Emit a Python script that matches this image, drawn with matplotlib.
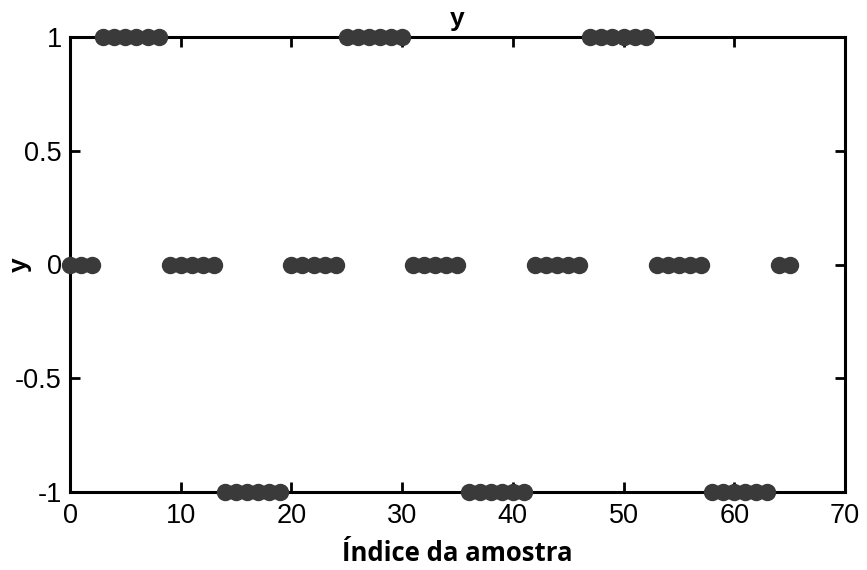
import numpy as np
import matplotlib.pyplot as plt

plt.rcParams['font.family'] = ['Liberation Sans', 'DejaVu Sans']

# sample index and value
idx = list(range(66))
y = ([0, 0, 0]
     + [1] * 6 + [0] * 5 + [-1] * 6 + [0] * 5
     + [1] * 6 + [0] * 5 + [-1] * 6 + [0] * 5
     + [1] * 6 + [0] * 5 + [-1] * 6 + [0] * 2)

xticks = [0, 10, 20, 30, 40, 50, 60, 70]
yticks = [-1, -0.5, 0, 0.5, 1]
ytick_labels = ['-1', '-0.5', '0', '0.5', '1']

fig = plt.figure(figsize=(8.67, 5.7), dpi=100)
ax = fig.add_axes([70 / 867, 1 - 492 / 570, 775 / 867, 455 / 570])

ax.plot(idx, y, 'o', color='#3a3a3a', markersize=11.5, clip_on=False, zorder=5)

ax.set_xlim(0, 70)
ax.set_ylim(-1, 1)
ax.set_xticks(xticks)
ax.set_yticks(yticks)
ax.set_yticklabels(ytick_labels)

ax.tick_params(direction='in', length=7, width=2, top=True, right=True,
               labelsize=19.5)
ax.tick_params(axis='x', pad=8)
ax.tick_params(axis='y', pad=6)
for s in ax.spines.values():
    s.set_linewidth(2.2)

ax.set_title('y', fontsize=19, fontweight='bold', pad=8)
ax.set_ylabel('y', fontsize=19, fontweight='bold')
ax.yaxis.set_label_coords(-0.049, 0.5)
ax.set_xlabel('Índice da amostra', fontsize=18.5, fontweight='bold',
              family='Open Sans', labelpad=8)

fig.savefig('out.png', dpi=100)
